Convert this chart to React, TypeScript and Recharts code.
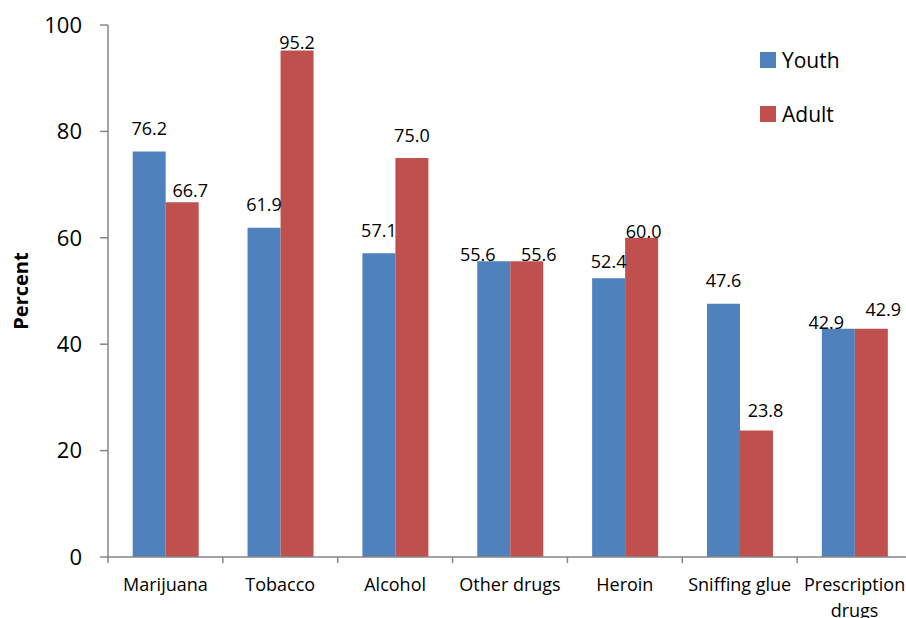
import { BarChart, Bar, XAxis, YAxis, Legend, LabelList, Label, Text } from "recharts";

const categories = [
  "Marijuana",
  "Tobacco",
  "Alcohol",
  "Other drugs",
  "Heroin",
  "Sniffing glue",
  "Prescription drugs",
];
const youth = [76.2, 61.9, 57.1, 55.6, 52.4, 47.6, 42.9];
const adult = [66.7, 95.2, 75.0, 55.6, 60.0, 23.8, 42.9];
const yTicks = [0, 20, 40, 60, 80, 100];
const seriesOrder = ["Youth", "Adult"];

// hand-placed value labels: [dx, dy] away from the default spot above each bar
const youthLabelNudge = [[0, 0], [0, 0], [0, 0], [-16, 16], [0, 6], [0, 0], [-12, 17]];
const adultLabelNudge = [[8, 11], [0, 15], [0, 0], [12, 16], [2, 17], [9, 3], [12, 4]];

const data = categories.map((name, i) => ({ name, youth: youth[i], adult: adult[i] }));

const FONT = "'Open Sans', sans-serif";
const AXIS = "#868686";
const BLUE = "#4F81BD";
const RED = "#C0504D";

const valueLabel = (nudge: number[][]) => (props: any) => {
  const { x, y, width, value, index } = props;
  const [dx, dy] = nudge[index] || [0, 0];
  return (
    <text
      x={Number(x) + Number(width) / 2 + dx}
      y={Number(y) - 23 + dy + 6.5}
      textAnchor="middle"
      fontFamily={FONT}
      fontSize={18}
      fill="#000"
    >
      {Number(value).toFixed(1)}
    </text>
  );
};

// category names plus the little tick marks that sit between categories
function CategoryTick(props: any) {
  const { x, y, payload } = props;
  const half = payload && typeof payload.offset === "number" ? payload.offset : 57.5;
  const left = x - half;
  return (
    <g>
      <line x1={left} x2={left} y1={y} y2={y + 6} stroke={AXIS} strokeWidth={1.5} />
      <Text
        x={x}
        y={y + 21}
        width={112}
        textAnchor="middle"
        verticalAnchor="start"
        lineHeight={26}
        fontFamily={FONT}
        fontSize={18}
        fill="#000"
      >
        {payload.value}
      </Text>
    </g>
  );
}

function LegendBox(props: any) {
  const items = [...(props.payload || [])].sort(
    (a: any, b: any) => seriesOrder.indexOf(a.value) - seriesOrder.indexOf(b.value)
  );
  return (
    <div style={{ fontFamily: FONT }}>
      {items.map((item: any, i: number) => (
        <div
          key={item.value}
          style={{ display: "flex", alignItems: "center", height: 16, marginBottom: i === 0 ? 38 : 0 }}
        >
          <span style={{ width: 16, height: 16, background: item.color, display: "inline-block" }} />
          <span style={{ marginLeft: 6, fontSize: 21, lineHeight: "16px", color: "#000" }}>{item.value}</span>
        </div>
      ))}
    </div>
  );
}

export default function App() {
  return (
    <div style={{ position: "fixed", left: 0, top: 0, width: 906, height: 618, overflow: "hidden", background: "#fff" }}>
      <BarChart
        width={920}
        height={618}
        data={data}
        margin={{ top: 25, right: 8, bottom: 0, left: 0 }}
        barCategoryGap="21.5%"
        barGap={0}
      >
        <XAxis
          dataKey="name"
          height={61}
          interval={0}
          axisLine={{ stroke: AXIS, strokeWidth: 1.5 }}
          tickLine={false}
          tickSize={0}
          tickMargin={0}
          tick={<CategoryTick />}
        />
        <YAxis
          width={108}
          domain={[0, 100]}
          ticks={yTicks}
          interval={0}
          axisLine={{ stroke: AXIS, strokeWidth: 1.5 }}
          tickLine={{ stroke: AXIS, strokeWidth: 1.5 }}
          tickSize={8}
          tickMargin={18}
          tick={{ fontFamily: FONT, fontSize: 22, fill: "#000" }}
        >
          <Label
            content={(p: any) => {
              const vb = p.viewBox || {};
              const cy = (vb.y || 25) + (vb.height || 532) / 2;
              return (
                <text
                  x={20}
                  y={cy}
                  transform={`rotate(-90 20 ${cy})`}
                  textAnchor="middle"
                  dominantBaseline="central"
                  fontFamily={FONT}
                  fontWeight="bold"
                  fontSize={20}
                  fill="#000"
                >
                  Percent
                </text>
              );
            }}
          />
        </YAxis>
        <Legend
          layout="vertical"
          align="center"
          verticalAlign="middle"
          wrapperStyle={{ top: 52, left: 760, width: 120 }}
          content={<LegendBox />}
        />
        <Bar dataKey="youth" name="Youth" fill={BLUE} isAnimationActive={false}>
          <LabelList dataKey="youth" content={valueLabel(youthLabelNudge)} />
        </Bar>
        <Bar dataKey="adult" name="Adult" fill={RED} isAnimationActive={false}>
          <LabelList dataKey="adult" content={valueLabel(adultLabelNudge)} />
        </Bar>
      </BarChart>
    </div>
  );
}
